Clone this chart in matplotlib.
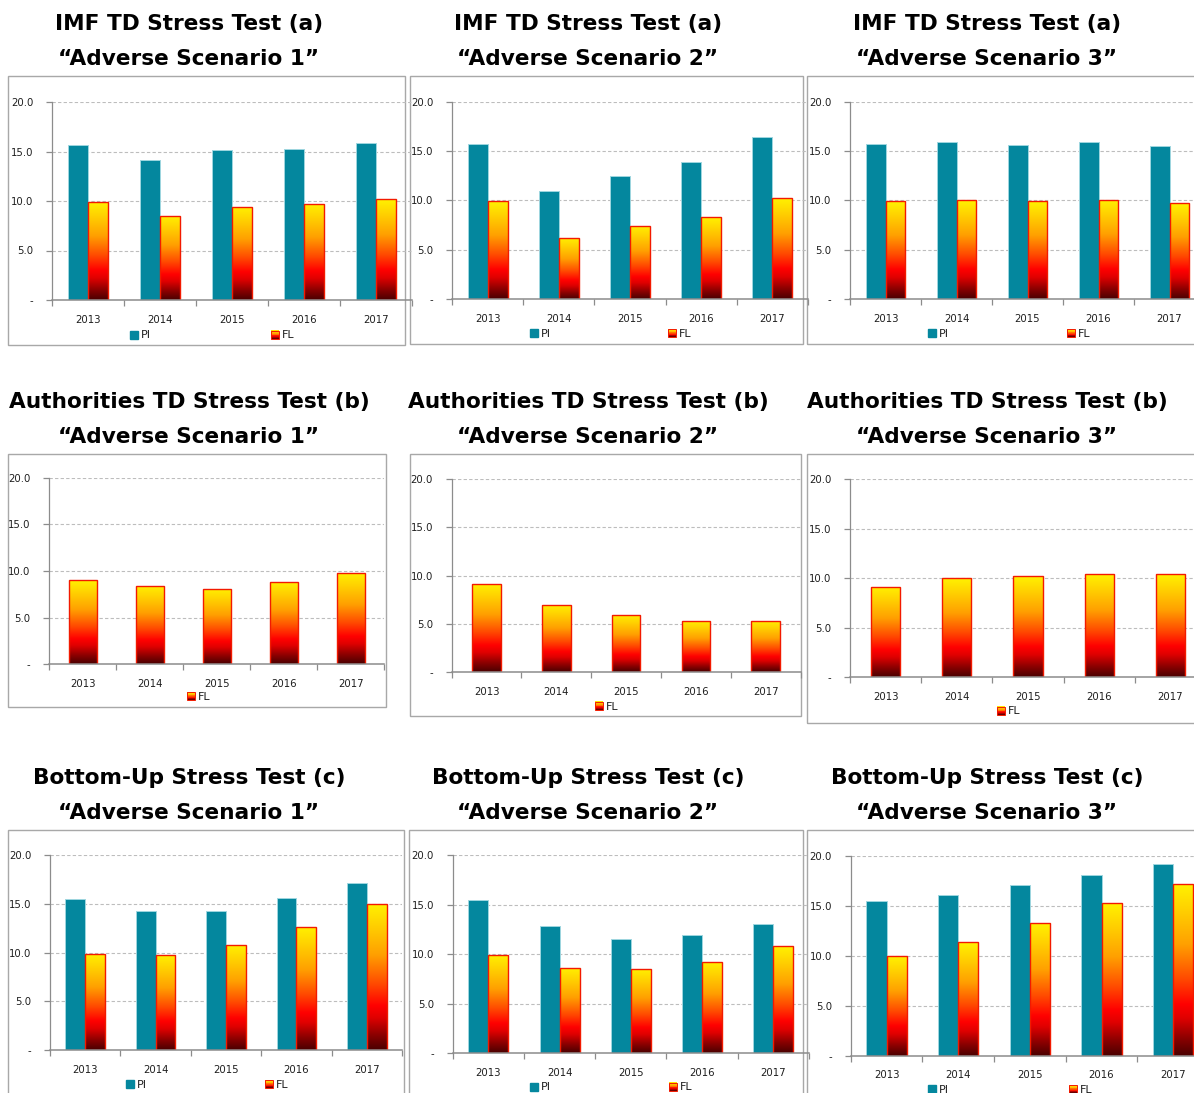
import numpy as np
import matplotlib
matplotlib.use("Agg")
import matplotlib.pyplot as plt
from matplotlib.patches import Rectangle, Patch
from matplotlib.colors import LinearSegmentedColormap
from matplotlib.legend_handler import HandlerBase
from matplotlib.ticker import FuncFormatter, FixedLocator

# ---------------- data ----------------
years = ['2013', '2014', '2015', '2016', '2017']

imf_s1_pi = [15.7, 14.1, 15.2, 15.3, 15.9]
imf_s1_fl = [9.9, 8.5, 9.4, 9.7, 10.2]
imf_s2_pi = [15.7, 10.9, 12.5, 13.9, 16.4]
imf_s2_fl = [9.9, 6.2, 7.4, 8.3, 10.2]
imf_s3_pi = [15.7, 15.9, 15.6, 15.9, 15.5]
imf_s3_fl = [9.9, 10.0, 9.9, 10.1, 9.7]

auth_s1_fl = [9.0, 8.4, 8.1, 8.8, 9.8]
auth_s2_fl = [9.1, 7.0, 5.9, 5.3, 5.3]
auth_s3_fl = [9.1, 10.0, 10.2, 10.4, 10.4]

bu_s1_pi = [15.5, 14.3, 14.3, 15.6, 17.1]
bu_s1_fl = [9.9, 9.8, 10.8, 12.6, 15.0]
bu_s2_pi = [15.5, 12.9, 11.5, 12.0, 13.1]
bu_s2_fl = [9.9, 8.6, 8.5, 9.2, 10.8]
bu_s3_pi = [15.5, 16.1, 17.1, 18.1, 19.2]
bu_s3_fl = [10.0, 11.4, 13.3, 15.3, 17.2]

title_lines1 = ['IMF TD Stress Test (a)', 'Authorities TD Stress Test (b)', 'Bottom-Up Stress Test (c)']
title_lines2 = ['\u201cAdverse Scenario 1\u201d', '\u201cAdverse Scenario 2\u201d', '\u201cAdverse Scenario 3\u201d']
yticks = [0, 5, 10, 15, 20]

# ---------------- style ----------------
W, H = 1194, 1093
PI_COLOR = '#04879E'
PI_EDGE = '#9ED6DF'
FL_EDGE = '#F21A00'
fl_cmap = LinearSegmentedColormap.from_list('fl', [
    (0.00, '#4A0000'), (0.10, '#8A0000'), (0.22, '#E00000'), (0.30, '#FF0000'),
    (0.45, '#FF4A00'), (0.65, '#FFA000'), (0.85, '#FFD000'), (1.00, '#FFF200')])
TICK_COLOR = '#1E1E1E'
AXIS_COLOR = '#8C8C8C'
GRID_COLOR = '#BDBDBD'
BOX_COLOR = '#A8A8A8'

fig = plt.figure(figsize=(W / 100, H / 100), dpi=100)


def fx(x):
    return x / W


def fy(y):
    return 1 - y / H


class GradHandler(HandlerBase):
    def create_artists(self, legend, orig_handle, xdescent, ydescent, width, height, fontsize, trans):
        arts = []
        n = 10
        for i in range(n):
            arts.append(Rectangle((-xdescent, -ydescent + height * i / n), width, height / n + 0.2,
                                  facecolor=fl_cmap((i + 0.5) / n), edgecolor='none', transform=trans))
        arts.append(Rectangle((-xdescent, -ydescent), width, height, fill=False,
                              edgecolor=FL_EDGE, lw=0.7, transform=trans))
        return arts


fl_handle = Patch(label='FL')
pi_handle = Patch(facecolor=PI_COLOR, edgecolor=PI_COLOR, label='PI')

# panel geometry in pixels: box, axes (left, right, y_zero, y_top), legend positions
panels = [
    # row 1
    dict(box=(8, 76, 405, 345), ax=(52, 412, 300, 102), pi=imf_s1_pi, fl=imf_s1_fl, leg=((130, 335.5), (270.5, 335.5))),
    dict(box=(410, 76, 803, 344), ax=(452, 808, 299, 101.7), pi=imf_s2_pi, fl=imf_s2_fl, leg=((530, 334), (668, 334))),
    dict(box=(807, 76, 1200, 344), ax=(850, 1205, 299.3, 101.7), pi=imf_s3_pi, fl=imf_s3_fl, leg=((927.5, 334), (1066.5, 334))),
    # row 2
    dict(box=(8, 454, 386, 707), ax=(49.3, 384.5, 664.3, 477.7), pi=None, fl=auth_s1_fl, leg=(None, (186.5, 697))),
    dict(box=(410, 454, 801, 716), ax=(451.7, 800.5, 672.3, 478.7), pi=None, fl=auth_s2_fl, leg=(None, (595, 706.5))),
    dict(box=(807, 454, 1200, 723), ax=(850, 1206, 677.3, 479.3), pi=None, fl=auth_s3_fl, leg=(None, (996.5, 711.5))),
    # row 3
    dict(box=(8, 830, 404, 1100), ax=(50, 402, 1050.3, 855), pi=bu_s1_pi, fl=bu_s1_fl, leg=((126, 1085), (265, 1085))),
    dict(box=(409, 830, 803, 1100), ax=(452.7, 809, 1053.3, 855.3), pi=bu_s2_pi, fl=bu_s2_fl, leg=((530, 1087.5), (669, 1087.5))),
    dict(box=(807, 830, 1200, 1100), ax=(850.7, 1209, 1055.7, 855.7), pi=bu_s3_pi, fl=bu_s3_fl, leg=((928, 1090), (1069, 1090))),
]

title_rows_y = [(24, 59), (402, 437), (778, 813)]
title_cols_x = [189, 588, 987]

for r in range(3):
    for c in range(3):
        fig.text(fx(title_cols_x[c]), fy(title_rows_y[r][0]), title_lines1[r], ha='center', va='center',
                 fontsize=15.6, fontweight='bold', family='DejaVu Sans', color='black')
        fig.text(fx(title_cols_x[c]), fy(title_rows_y[r][1]), title_lines2[c], ha='center', va='center',
                 fontsize=15.6, fontweight='bold', family='DejaVu Sans', color='black')

gradient = np.linspace(0, 1, 256).reshape(-1, 1)

for p in panels:
    bx0, by0, bx1, by1 = p['box']
    fig.add_artist(Rectangle((fx(bx0), fy(by1)), fx(bx1 - bx0), (by1 - by0) / H, fill=False,
                             edgecolor=BOX_COLOR, lw=1.0, transform=fig.transFigure, zorder=0))
    l, rr, y0, y20 = p['ax']
    ax = fig.add_axes([fx(l), fy(y0), fx(rr - l), (y0 - y20) / H])
    ax.patch.set_alpha(0)
    x = np.arange(len(years))
    two = p['pi'] is not None
    if two:
        w = 0.28
        ax.bar(x - w / 2, p['pi'], width=w, color=PI_COLOR, edgecolor=PI_EDGE, lw=0.7, zorder=3)
        fl_x = x + w / 2
    else:
        w = 0.41
        fl_x = x
    fl_bars = ax.bar(fl_x, p['fl'], width=w, facecolor='none', edgecolor=FL_EDGE, lw=1.0, zorder=4)
    for b in fl_bars:
        bx, by = b.get_x(), b.get_y()
        bw, bh = b.get_width(), b.get_height()
        im = ax.imshow(gradient, cmap=fl_cmap, origin='lower', aspect='auto',
                       extent=[bx, bx + bw, by, by + bh], zorder=3.5, interpolation='bicubic')
        im.set_clip_path(b)
    ax.set_xlim(-0.5, len(years) - 0.5)
    ax.set_ylim(0, 20)
    ax.set_aspect('auto')
    # grid
    ax.set_yticks(yticks)
    ax.yaxis.set_major_formatter(FuncFormatter(lambda v, pos: '-' if v == 0 else f'{v:.1f}'))
    for yv in yticks[1:]:
        ax.axhline(yv, color=GRID_COLOR, lw=0.8, ls=(0, (3, 2)), zorder=1)
    ax.set_xticks(x)
    ax.set_xticklabels(years)
    ax.xaxis.set_minor_locator(FixedLocator(np.arange(-0.5, len(years), 1.0)))
    ax.tick_params(axis='x', which='major', length=0, pad=10.5, labelsize=7.3, labelcolor=TICK_COLOR)
    ax.tick_params(axis='x', which='minor', length=4, width=0.9, color=AXIS_COLOR, direction='out')
    ax.tick_params(axis='y', which='major', length=4, width=0.9, color=AXIS_COLOR, direction='out',
                   pad=9.5, labelsize=7.3, labelcolor=TICK_COLOR)
    for s in ['top', 'right']:
        ax.spines[s].set_visible(False)
    for s in ['left', 'bottom']:
        ax.spines[s].set_color(AXIS_COLOR)
        ax.spines[s].set_linewidth(1.1)
        ax.spines[s].set_zorder(5)
    ax.spines['left'].set_linewidth(0.9)
    # legends
    pi_pos, fl_pos = p['leg']
    entries = []
    if pi_pos is not None:
        entries.append((pi_handle, 'PI', pi_pos, {}))
    entries.append((fl_handle, 'FL', fl_pos, {Patch: GradHandler()}))
    for h, lab, pos, hm in entries:
        lg = fig.legend([h], [lab], loc='center left', bbox_to_anchor=(fx(pos[0]), fy(pos[1])),
                        bbox_transform=fig.transFigure, frameon=False, borderpad=0, borderaxespad=0,
                        handlelength=0.72, handleheight=0.72, handletextpad=0.3, fontsize=8,
                        handler_map=hm)
        for t in lg.get_texts():
            t.set_color(TICK_COLOR)

fig.savefig('out.png', dpi=100)
